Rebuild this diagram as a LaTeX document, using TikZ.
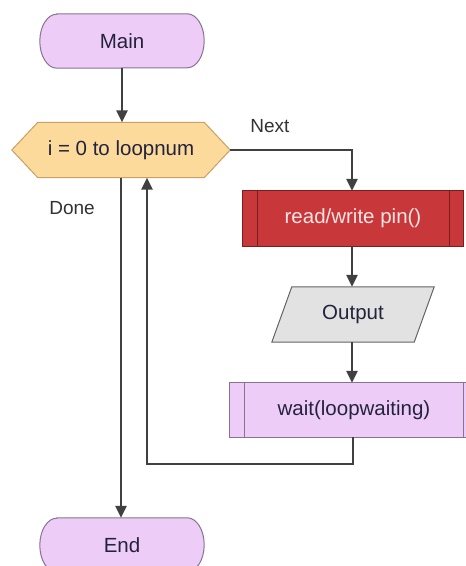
\documentclass[tikz,border=0pt]{standalone}
\usepackage{fontspec}
\setmainfont{Liberation Sans}
\usetikzlibrary{arrows.meta,backgrounds}
\definecolor{purfill}{RGB}{237,205,248}
\definecolor{purdraw}{RGB}{135,115,145}
\definecolor{hexfill}{RGB}{252,218,156}
\definecolor{hexdraw}{RGB}{200,160,100}
\definecolor{redfill}{RGB}{200,56,58}
\definecolor{reddraw}{RGB}{120,30,30}
\definecolor{grayfill}{RGB}{226,226,226}
\definecolor{graydraw}{RGB}{100,100,100}
\definecolor{linecol}{RGB}{64,64,64}
\definecolor{txt}{RGB}{35,35,60}
\tikzset{
  base/.style={inner sep=0pt, font=\fontsize{20.5}{24}\selectfont, text=txt},
  term/.style={base, minimum width=164pt, minimum height=54pt},
  hexa/.style={base, minimum width=218pt, minimum height=55pt},
  proc/.style={base, minimum width=220pt, minimum height=55pt, text={rgb,255:red,250;green,228;blue,228}},
  para/.style={base, minimum width=142pt, minimum height=55pt},
  wproc/.style={base, minimum width=248pt, minimum height=54pt},
  lbl/.style={font=\fontsize{19}{22}\selectfont, text={rgb,255:red,50;green,50;blue,50}, inner sep=0pt},
  conn/.style={draw=linecol, line width=2.8pt, -{Triangle[length=12pt,width=11pt]}},
  shapeline/.style={line width=1pt},
}
\begin{document}
\begin{tikzpicture}[x=1pt,y=1pt]
\useasboundingbox (0,0) rectangle (466,566);
% nodes (y = 566 - pixel y)
\node[term] (main) at (122,525) {Main};
\node[hexa] (hex) at (121,416) {i = 0 to loopnum};
\node[proc] (rw) at (353,347.5) {read/write pin()};
\node[para] (out) at (353,251.5) {Output};
\node[wproc] (wait) at (354,156) {wait(loopwaiting)};
\node[term] (end) at (122,21) {End};
\node[lbl] (next) at (270,440) {Next};
\node[lbl] (done) at (72,358) {Done};
\begin{scope}[on background layer]
  \clip (0,0) rectangle (466,566);
  % terminals
  \foreach \n in {main,end}{
    \draw[shapeline, fill=purfill, draw=purdraw]
      ([xshift=17pt]\n.north west) -- ([xshift=-17pt]\n.north east)
      arc[start angle=90, end angle=-90, x radius=17pt, y radius=27pt]
      -- ([xshift=17pt]\n.south west)
      arc[start angle=270, end angle=90, x radius=17pt, y radius=27pt] -- cycle;
  }
  % hexagon
  \draw[shapeline, fill=hexfill, draw=hexdraw]
    (hex.west) -- ([xshift=26pt]hex.north west) -- ([xshift=-26pt]hex.north east)
    -- (hex.east) -- ([xshift=-26pt]hex.south east) -- ([xshift=26pt]hex.south west) -- cycle;
  % red process
  \draw[shapeline, fill=redfill, draw=reddraw] (rw.north west) rectangle (rw.south east);
  \draw[shapeline, draw=reddraw] ([xshift=15pt]rw.north west) -- ([xshift=15pt]rw.south west);
  \draw[shapeline, draw=reddraw] ([xshift=-14pt]rw.north east) -- ([xshift=-14pt]rw.south east);
  % parallelogram
  \draw[shapeline, fill=grayfill, draw=graydraw]
    ([xshift=10pt]out.north west) -- ([xshift=10pt]out.north east)
    -- ([xshift=-10pt]out.south east) -- ([xshift=-10pt]out.south west) -- cycle;
  % wait process
  \draw[shapeline, fill=purfill, draw=purdraw] (wait.north west) rectangle (wait.south east);
  \draw[shapeline, draw=purdraw] ([xshift=15pt]wait.north west) -- ([xshift=15pt]wait.south west);
  \draw[shapeline, draw=purdraw] ([xshift=-15pt]wait.north east) -- ([xshift=-15pt]wait.south east);
\end{scope}
% connectors
\coordinate (nextbend) at (352,416);
\coordinate (loopdown) at (353,102);
\coordinate (loopleft) at (147,102);
\coordinate (loopup) at ([xshift=26pt]hex.south);
\draw[conn] (main.south) -- (main.south |- hex.north);
\draw[conn] (hex.east) -- (nextbend) -- (nextbend |- rw.north);
\draw[conn] (rw.south -| nextbend) -- (nextbend |- out.north);
\draw[conn] (out.south -| nextbend) -- (nextbend |- wait.north);
\draw[conn] (wait.south -| loopdown) -- (loopdown) -- (loopleft) -- (loopup);
\draw[conn] (hex.south) -- (hex.south |- end.north);
\end{tikzpicture}
\end{document}
